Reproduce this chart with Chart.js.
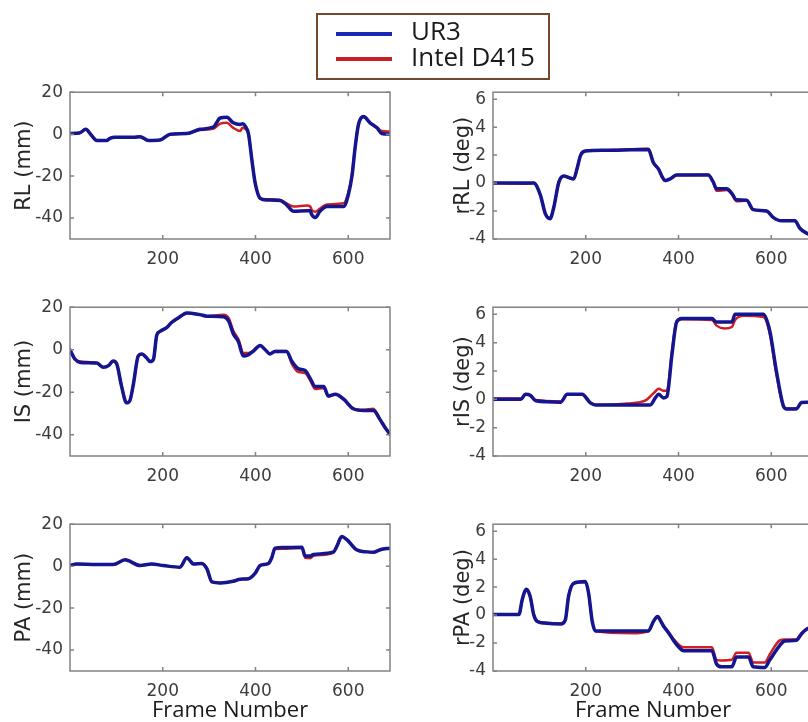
<!DOCTYPE html>
<html>
<head>
<meta charset="utf-8">
<title>UR3 vs Intel D415</title>
<script src="https://cdn.jsdelivr.net/npm/chart.js@4.4.1/dist/chart.umd.min.js"></script>
<style>
  html, body { margin: 0; padding: 0; background: #fff; overflow: hidden; }
  body { width: 808px; height: 722px; position: relative; }
  canvas { position: absolute; }
  #legend {
    position: absolute; left: 316px; top: 13px; width: 234px; height: 67px;
    box-sizing: border-box; border: 2px solid #72492c; background: #fff; z-index: 5;
  }
  .swatch { position: absolute; left: 18px; width: 56px; height: 4px; }
  .ltext {
    position: absolute; left: 93px; font-family: "Open Sans", sans-serif;
    font-size: 26px; line-height: 26px; color: #1a1a1a; white-space: nowrap;
  }
</style>
</head>
<body>

<div id="legend">
  <span class="swatch" style="top:17px;background:#1c28b4"></span>
  <span class="ltext" style="top:2px">UR3</span>
  <span class="swatch" style="top:42px;background:#c42026"></span>
  <span class="ltext" style="top:28px">Intel D415</span>
</div>

<canvas id="cRL"  width="400" height="200" style="left:0;top:75px"></canvas>
<canvas id="crRL" width="400" height="200" style="left:423px;top:75px"></canvas>
<canvas id="cIS"  width="400" height="202" style="left:0;top:290px"></canvas>
<canvas id="crIS" width="400" height="202" style="left:423px;top:290px"></canvas>
<canvas id="cPA"  width="400" height="217" style="left:0;top:507px"></canvas>
<canvas id="crPA" width="400" height="217" style="left:423px;top:507px"></canvas>

<script>
// tick labels
const xTicks = [200, 400, 600];
const mmTicks = [-40, -20, 0, 20];
const degTicks = [-4, -2, 0, 2, 4, 6];

// RL (mm)
const rlFrames = [0, 20, 34, 47, 58, 79, 86, 97, 137, 151, 169, 194, 216, 252, 280, 309, 324, 338, 352, 367,
  372, 378, 385, 392, 399, 410, 424, 453, 467, 482, 511, 518, 521, 529, 539, 554, 590, 600, 608, 615,
  622, 633, 647, 662, 672, 690];
const rlUR3 = [0.3, 0.5, 2.3, -0.8, -3, -3, -2, -1.5, -1.5, -1.2, -3, -2.8, 0, 0.3, 2.3, 3.4, 7.7, 8, 5.4, 4.6,
  5, 3.8, 0, -12, -23, -30.6, -31.4, -31.6, -33.7, -36.8, -36.5, -36.5, -38.3, -39.8, -36.8, -34.5, -34.5, -29, -20, -6,
  4.6, 8.4, 5.4, 3, 0.3, 0];
const rlD415 = [0.3, 0.5, 2.2, -0.8, -3, -3, -2, -1.5, -1.5, -1.2, -3, -2.8, 0, 0.3, 2, 2.5, 5, 5.4, 3, 1.5,
  3, 2.5, 0, -12, -23, -30.6, -31, -31.4, -33, -34.5, -34, -34.5, -36, -37, -35.5, -33.5, -33, -28, -19.5, -6,
  4.6, 8.2, 5.4, 3, 1.5, 1.2];

// rRL (deg)
const rrlFrames = [0, 67, 88, 102, 113, 123, 131, 142, 153, 163, 174, 181, 189, 199, 239, 335, 346, 357, 364, 371,
  382, 396, 464, 475, 482, 504, 515, 525, 547, 561, 590, 604, 622, 651, 662, 677, 690];
const rrlUR3 = [0, 0, 0, -0.85, -2.2, -2.55, -1.75, 0.07, 0.5, 0.4, 0.3, 1, 2, 2.3, 2.35, 2.4, 1.45, 1, 0.5, 0.18,
  0.3, 0.57, 0.57, 0.07, -0.4, -0.4, -0.73, -1.2, -1.23, -1.9, -2, -2.45, -2.7, -2.7, -3.25, -3.6, -3.75];
const rrlD415 = [0, -0.05, 0, -0.85, -2.2, -2.5, -1.75, 0.07, 0.5, 0.4, 0.3, 1, 2, 2.3, 2.35, 2.45, 1.45, 1, 0.5, 0.18,
  0.3, 0.57, 0.6, 0.07, -0.55, -0.5, -0.8, -1.3, -1.25, -1.9, -2, -2.45, -2.7, -2.7, -3.25, -3.6, -3.75];

// IS (mm)
const isFrames = [0, 11, 22, 58, 72, 83, 93, 101, 111, 122, 129, 137, 147, 155, 165, 173, 180, 187, 194, 209,
  219, 234, 252, 280, 295, 331, 342, 352, 363, 374, 385, 396, 410, 421, 431, 442, 467, 478, 493, 507,
  518, 529, 547, 557, 572, 590, 611, 633, 654, 669, 680, 690];
const isUR3 = [0, -4.5, -6, -6.3, -8.3, -7.5, -5.3, -6.8, -17, -25, -24, -15.8, -3, -2, -3.8, -5.6, -4.5, 6.8, 8.6, 10.5,
  12.8, 15, 17.3, 16.5, 15.8, 15.5, 13.5, 7.5, 3.8, -3, -2.3, -0.5, 2, 0, -2, -0.8, -0.8, -5.3, -9, -9.8,
  -13.5, -17.3, -17.3, -21.8, -21, -23.3, -27.8, -28.6, -28.6, -33, -36.8, -39.8];
const isD415 = [0, -4.5, -5.5, -6.3, -8.3, -7.5, -5.3, -6.8, -17, -25, -24, -15.8, -3, -2, -3.8, -5.6, -4.5, 6.8, 8.6, 10.5,
  12.8, 15, 17.3, 16.5, 15.8, 16.5, 15, 9, 5, -1.5, -1.5, -0.5, 2, 0, -2, -0.6, -0.6, -6.5, -10.5, -11,
  -14.5, -18.5, -18, -22, -21, -23, -27.8, -28.3, -27.8, -33, -36.8, -39.8];

// rIS (deg)
const risFrames = [0, 60, 70, 81, 92, 146, 160, 192, 210, 221, 290, 330, 339, 350, 357, 368, 375, 386, 396, 407,
  472, 482, 500, 515, 522, 540, 583, 597, 611, 626, 633, 654, 665, 677, 690];
const risUR3 = [0, 0, 0.35, 0.27, -0.1, -0.2, 0.35, 0.35, -0.25, -0.4, -0.4, -0.4, -0.4, 0.1, 0.35, 0.1, 0.2, 3.2, 5.45, 5.7,
  5.7, 5.45, 5.45, 5.45, 6, 6, 6, 4.8, 2, -0.45, -0.68, -0.68, -0.23, -0.2, -0.2];
const risD415 = [0.05, 0.05, 0.35, 0.27, -0.05, -0.15, 0.35, 0.35, -0.25, -0.4, -0.3, -0.05, 0.2, 0.55, 0.75, 0.6, 0.6, 3.4, 5.5, 5.65,
  5.6, 5.2, 5.0, 5.1, 5.6, 5.9, 5.8, 4.6, 1.8, -0.5, -0.65, -0.65, -0.25, -0.2, -0.2];

// PA (mm)
const paFrames = [0, 14, 58, 93, 119, 126, 151, 176, 201, 237, 252, 259, 266, 284, 295, 306, 324, 352, 367, 385,
  399, 410, 428, 435, 442, 460, 500, 507, 518, 525, 568, 575, 586, 597, 618, 640, 654, 669, 690];
const paUR3 = [0.3, 1, 0.75, 0.75, 3, 2.6, 0.3, 1, 0.3, -0.5, 4, 2.6, 1, 1.3, -1.2, -7.5, -8, -7.2, -6.2, -6,
  -3.5, 0.3, 1.3, 4, 8.6, 8.9, 9, 4.8, 4.8, 5.6, 6.8, 9.3, 14.1, 12.6, 7.8, 6.8, 6.6, 7.8, 8.6];
const paD415 = [0.3, 1, 0.75, 0.75, 3, 2.6, 0.3, 1, 0.3, -0.5, 4, 2.6, 1, 1.3, -1.2, -7.5, -8, -7.2, -6.2, -6,
  -3.5, 0.3, 1.3, 4, 8.2, 8.3, 8.8, 4, 3.8, 5, 6.4, 9.3, 14.1, 12.6, 7.8, 6.8, 6.6, 7.8, 8.6];

// rPA (deg)
const rpaFrames = [0, 56, 63, 72, 80, 88, 95, 110, 146, 156, 163, 174, 199, 206, 214, 221, 300, 335, 346, 355,
  362, 368, 378, 389, 400, 411, 472, 482, 493, 515, 525, 551, 561, 586, 597, 619, 629, 654, 665, 677, 690];
const rpaUR3 = [0.05, 0.05, 1.1, 1.85, 1.35, 0, -0.45, -0.57, -0.64, -0.34, 1.36, 2.27, 2.4, 1.6, -0.45, -1.14, -1.14, -1.14, -0.45, -0.1,
  -0.45, -0.8, -1.25, -1.8, -2.27, -2.55, -2.55, -3.5, -3.7, -3.7, -3, -3, -3.7, -3.75, -3.2, -2.15, -1.85, -1.8, -1.35, -1.0, -0.9];
const rpaD415 = [0.05, 0.05, 1.1, 1.8, 1.35, 0, -0.4, -0.55, -0.6, -0.34, 1.36, 2.27, 2.35, 1.6, -0.45, -1.14, -1.3, -1.14, -0.45, -0.1,
  -0.45, -0.8, -1.2, -1.7, -2.1, -2.3, -2.3, -3.2, -3.25, -3.2, -2.7, -2.7, -3.4, -3.4, -2.8, -1.8, -1.75, -1.75, -1.3, -0.95, -0.85];

const BLUE = "#15158f";
const RED = "#cf1f23";
const TICK_FONT = { family: "DejaVu Sans", size: 17 };
const TICK_COLOR = "#3c3c3c";

// matlab style box with inward ticks on all four sides
const boxPlugin = {
    id: "matlabBox",
    afterDatasetsDraw(chart) {
        const { ctx, chartArea: a, scales: { x, y } } = chart;
        ctx.save();
        ctx.strokeStyle = "#828282";
        ctx.lineWidth = 1.5;
        ctx.strokeRect(a.left, a.top, a.right - a.left, a.bottom - a.top);
        ctx.beginPath();
        x.ticks.forEach(t => {
            const px = x.getPixelForValue(t.value);
            ctx.moveTo(px, a.bottom); ctx.lineTo(px, a.bottom - 4);
            ctx.moveTo(px, a.top); ctx.lineTo(px, a.top + 4);
        });
        y.ticks.forEach(t => {
            const py = y.getPixelForValue(t.value);
            ctx.moveTo(a.left, py); ctx.lineTo(a.left + 4, py);
            ctx.moveTo(a.right, py); ctx.lineTo(a.right - 4, py);
        });
        ctx.stroke();
        ctx.restore();
    }
};

function toPoints(frames, values) {
    return frames.map((f, i) => ({ x: f, y: values[i] }));
}

function makePanel(id, frames, ur3, d415, yLabel, yMin, yMax, yTicks, titlePad, xAxisHeight, showXTitle) {
    new Chart(document.getElementById(id), {
        type: "line",
        data: {
            datasets: [
                { label: "UR3", data: toPoints(frames, ur3), borderColor: BLUE, borderWidth: 3.5 },
                { label: "Intel D415", data: toPoints(frames, d415), borderColor: RED, borderWidth: 2.5 }
            ]
        },
        options: {
            responsive: false,
            animation: false,
            events: [],
            elements: {
                point: { radius: 0 },
                line: { cubicInterpolationMode: "monotone", borderJoinStyle: "round", borderCapStyle: "round" }
            },
            layout: { padding: { left: 0, right: 10, top: 10, bottom: 0 } },
            plugins: { legend: { display: false }, tooltip: { enabled: false } },
            scales: {
                x: {
                    type: "linear", min: 0, max: 690,
                    afterBuildTicks: s => { s.ticks = xTicks.map(v => ({ value: v })); },
                    afterFit: s => { s.height = xAxisHeight; },
                    grid: { display: false, drawTicks: false },
                    border: { display: false },
                    ticks: { padding: 10, font: TICK_FONT, color: TICK_COLOR, autoSkip: false, maxRotation: 0 },
                    title: {
                        display: showXTitle, text: "Frame Number", color: "#1a1a1a",
                        font: { family: "Open Sans", size: 22 }, padding: { top: 0, bottom: 0 }
                    }
                },
                y: {
                    type: "linear", min: yMin, max: yMax,
                    afterBuildTicks: s => { s.ticks = yTicks.map(v => ({ value: v })); },
                    afterFit: s => { s.width = 70; },
                    grid: { display: false, drawTicks: false },
                    border: { display: false },
                    ticks: { padding: 7, font: TICK_FONT, color: TICK_COLOR, autoSkip: false },
                    title: {
                        display: true, text: yLabel, color: "#262626",
                        font: { family: "DejaVu Sans", size: 21 }, padding: { top: titlePad, bottom: 0 }
                    }
                }
            }
        },
        plugins: [boxPlugin]
    });
}

document.addEventListener("DOMContentLoaded", function () {
    makePanel("cRL", rlFrames, rlUR3, rlD415, "RL (mm)", -50, 20, mmTicks, 12, 36, false);
    makePanel("crRL", rrlFrames, rrlUR3, rrlD415, "rRL (deg)", -4, 6.5, degTicks, 28, 36, false);
    makePanel("cIS", isFrames, isUR3, isD415, "IS (mm)", -50, 20, mmTicks, 12, 36, false);
    makePanel("crIS", risFrames, risUR3, risD415, "rIS (deg)", -4, 6.5, degTicks, 28, 36, false);
    makePanel("cPA", paFrames, paUR3, paD415, "PA (mm)", -50, 20, mmTicks, 12, 53, true);
    makePanel("crPA", rpaFrames, rpaUR3, rpaD415, "rPA (deg)", -4, 6.5, degTicks, 28, 53, true);
});
</script>
</body>
</html>
